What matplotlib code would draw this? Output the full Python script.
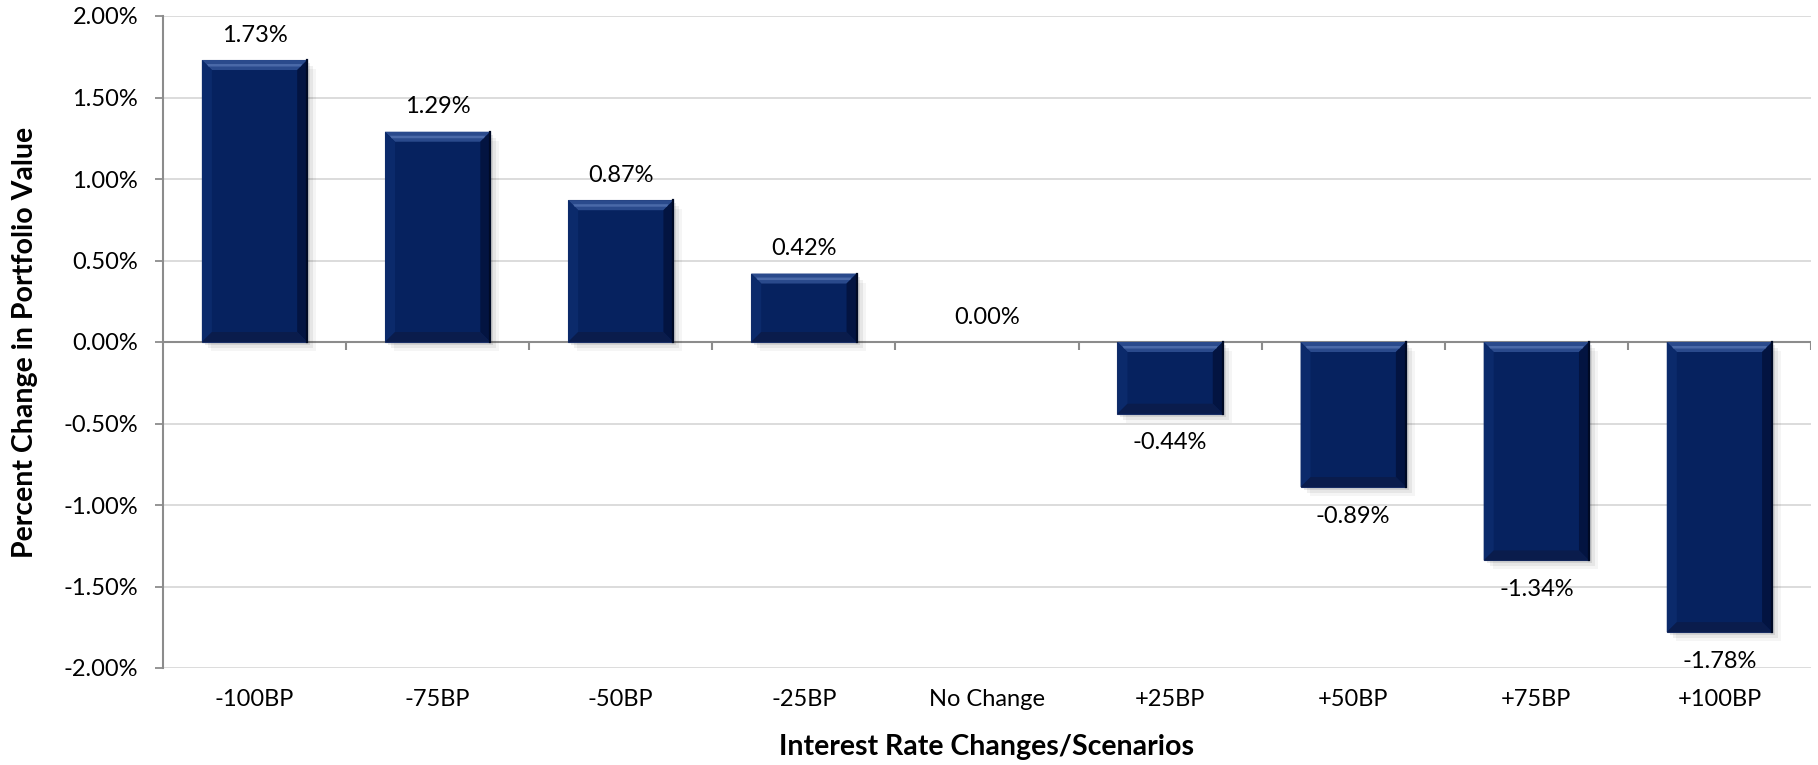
import numpy as np
import matplotlib
matplotlib.use("Agg")
import matplotlib.pyplot as plt
from matplotlib.patches import Polygon, Rectangle

categories = ["-100BP", "-75BP", "-50BP", "-25BP", "No Change", "+25BP", "+50BP", "+75BP", "+100BP"]
values = [1.73, 1.29, 0.87, 0.42, 0.00, -0.44, -0.89, -1.34, -1.78]
yticks = [2.0, 1.5, 1.0, 0.5, 0.0, -0.5, -1.0, -1.5, -2.0]

plt.rcParams['font.family'] = ['Lato', 'DejaVu Sans']

W, H, DPI = 1818, 765, 100
fig = plt.figure(figsize=(W / DPI, H / DPI), dpi=DPI)
L, R, T, B = 163, 1811, 16, 668
ax = fig.add_axes([L / W, 1 - B / H, (R - L) / W, (B - T) / H])

n = len(categories)
ax.set_xlim(-0.5, n - 0.5)
ax.set_ylim(-2.0, 2.0)

px_x = (R - L) / n          # pixels per x data unit
px_y = (B - T) / 4.0        # pixels per 1 percent

bw = 0.575
bev = 10
dx = bev / px_x
dy = bev / px_y

base = '#06225f'
x = np.arange(n)

# gridlines
for t in yticks:
    ax.axhline(t, color='#d9d9d9', lw=1.3, zorder=0)

# zero axis line and category boundary ticks
ax.axhline(0, color='#8c8c8c', lw=1.5, zorder=1)
bounds = np.arange(n + 1) - 0.5
ax.vlines(bounds[1:], 0, -8 / px_y, color='#8c8c8c', lw=1.5, zorder=1)

for xi, v in zip(x, values):
    if v == 0:
        continue
    x0, x1 = xi - bw / 2, xi + bw / 2
    y0, y1 = min(0, v), max(0, v)
    # soft shadow
    for k, a in [(9, 0.04), (6, 0.06), (3, 0.09)]:
        ax.add_patch(Rectangle((x0 + k / px_x, y0 - k / px_y), bw, y1 - y0,
                               facecolor='black', alpha=a, lw=0, zorder=2))
    ax.bar(xi, v, width=bw, color=base, edgecolor='#1a2f66', lw=0.8, zorder=3)
    # bevel faces
    top = Polygon([(x0, y1), (x1, y1), (x1 - dx, y1 - dy), (x0 + dx, y1 - dy)],
                  closed=True, facecolor='#2a4a8c', lw=0, zorder=4)
    hl = Polygon([(x0 + dx * 0.5, y1 - dy * 0.4), (x1 - dx * 0.5, y1 - dy * 0.4),
                  (x1 - dx * 0.65, y1 - dy * 0.65), (x0 + dx * 0.65, y1 - dy * 0.65)],
                 closed=True, facecolor='#4a69a8', lw=0, zorder=4.5)
    left = Polygon([(x0, y1), (x0 + dx, y1 - dy), (x0 + dx, y0 + dy), (x0, y0)],
                   closed=True, facecolor='#0b2a6b', lw=0, zorder=4)
    right = Polygon([(x1, y1), (x1 - dx, y1 - dy), (x1 - dx, y0 + dy), (x1, y0)],
                    closed=True, facecolor='#031441', lw=0, zorder=4)
    bot = Polygon([(x0, y0), (x1, y0), (x1 - dx, y0 + dy), (x0 + dx, y0 + dy)],
                  closed=True, facecolor='#0a1c4c', lw=0, zorder=4)
    for p in (top, left, right, bot, hl):
        ax.add_patch(p)
    ax.plot([x1, x1], [y0, y1], color='#000a25', lw=1.6, zorder=5)

# data labels
for xi, v in zip(x, values):
    off = 18 if v >= 0 else -21
    ax.annotate(f"{v:.2f}%", (xi, v), xytext=(0, off), textcoords='offset points',
                ha='center', va='center', fontsize=17, color='black', zorder=6)

ax.set_yticks(yticks)
ax.set_yticklabels([f"{t:.2f}%" for t in yticks], fontsize=17)
ax.tick_params(axis='y', length=6, width=1.3, color='#8c8c8c', pad=12)
ax.set_xticks(x)
ax.set_xticklabels(categories, fontsize=17)
ax.tick_params(axis='x', length=0, pad=15)

for s in ['top', 'right', 'bottom']:
    ax.spines[s].set_visible(False)
ax.spines['left'].set_color('#8c8c8c')
ax.spines['left'].set_linewidth(1.5)

fig.text((L + R) / 2 / W, 1 - 747 / H, "Interest Rate Changes/Scenarios",
         ha='center', va='center', fontsize=20.5, fontweight='bold')
fig.text(25 / W, 1 - (T + B) / 2 / H, "Percent Change in Portfolio Value",
         ha='center', va='center', rotation=90, fontsize=20.5, fontweight='bold')

fig.savefig("out.png", dpi=DPI)
